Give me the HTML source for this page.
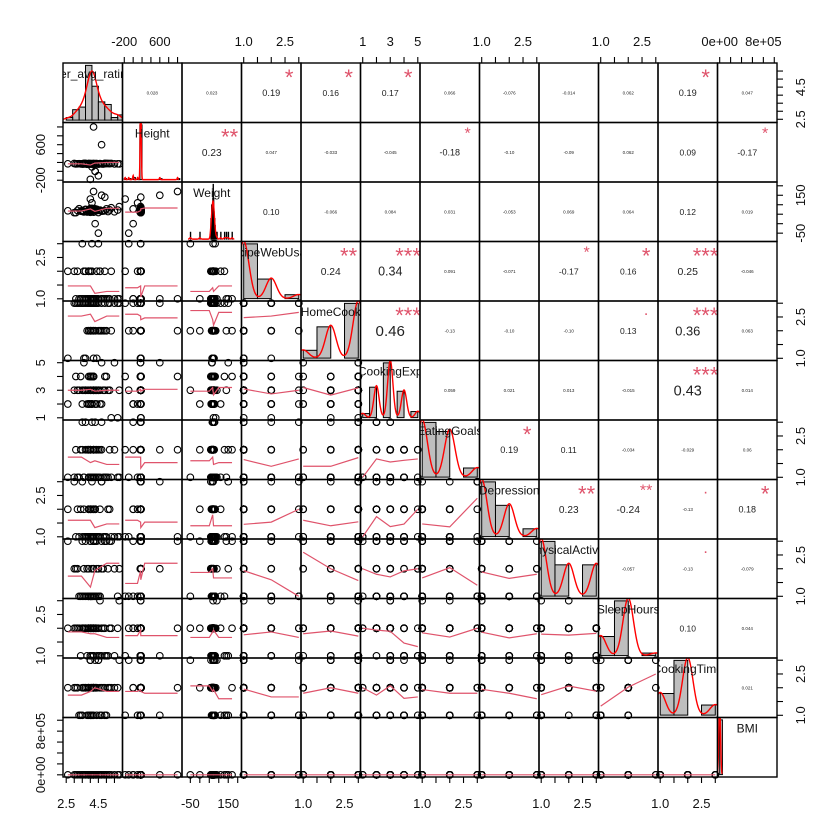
<!DOCTYPE html>
<html><head><meta charset="utf-8"><style>
html,body{margin:0;padding:0;background:#fff}
svg{display:block;font-family:"Liberation Sans",sans-serif}
</style></head><body>
<svg id="chart" width="840" height="840" viewBox="0 0 840 840" xmlns="http://www.w3.org/2000/svg"></svg>
<script>
const varNames = ["Per_avg_rating","Height","Weight","RecipeWebUsage","HomeCook","CookingExp","EatingGoals","Depression","PhysicalActivity","SleepHours","CookingTime","BMI"];
const rating = [4.2,3.5,4.6,3.1,4.0,4.9,3.8,4.4,4.1,5.3,3.4,4.2,4.5,3.9,5.0,3.2,4.0,4.3,4.7,3.7,4.1,4.2,5.8,3.6,4.3,4.0,4.8,3.9,2.6,4.5,4.1,3.5,4.2,5.1,3.9,4.4,4.0,5.5,4.1,3.7,4.6,4.2,3.3,4.7,3.9,4.0,4.3,5.2,3.8,4.1,4.2,5.7,3.6,4.4,4.0,3.0,4.3,4.9,3.9,4.1];
const height = [170,165,175,168,172,180,160,171,166,178,169,174,-100,163,177,170,167,173,600,176,164,171,168,179,0,172,166,175,170,162,174,169,1000,177,165,171,173,168,100,176,170,163,172,167,178,-180,171,174,166,169,175,170,164,173,168,177,0,172,165,171];
const weight = [70,65,72,58,80,68,62,75,69,84,66,71,-50,63,78,70,60,74,150,76,64,69,90,62,0,71,67,73,68,59,77,70,170,64,72,69,75,63,110,74,70,61,79,66,71,130,69,73,62,81,67,72,65,76,70,58,78,140,66,73];
const webUsage = "112112111211311211121112111121131121112121112211131112121121";
const homeCook = "332323313233232332332133232313332323233123322333232313233232";
const cookExp  = "332434323143324323532433243323424323352334322433243153432342";
const eatGoals = "121211213122121121231211221212132112121221131212212112213121";
const depress  = "112121113121121212311211221121131211212112132112121121132121";
const physAct  = "131213121312113231211321312132113213121312132113213121321312";
const sleepHrs = "221222122212221222122132212221222122212231222122212221222122";
const cookTime = "221232122212321222122132212223212212321222122132212221322122";
const bmi = [24,22,27,20,30,25,21,28,23,33,22,26,25,21,31,24,20,27,26,29,22,25,36,21,24,26,23,28,24,19,30,25,22,21,26,24,28,22,35,27,24,20,31,22,25,29,24,27,21,32,23,26,22,29,25,19,30,38,23,27];
const ranges = [[2.3,6.0],[-240,1100],[-94,220],[0.92,3.08],[0.92,3.08],[0.84,5.16],[0.92,3.08],[0.92,3.08],[0.92,3.08],[0.92,3.08],[0.92,3.08],[-40000,1050000]];
const tickVals = [[2.5,3,3.5,4,4.5,5,5.5],[-200,0,200,400,600,800,1000],[-50,0,50,100,150,200],[1,1.5,2,2.5,3],[1,1.5,2,2.5,3],[1,2,3,4,5],[1,1.5,2,2.5,3],[1,1.5,2,2.5,3],[1,1.5,2,2.5,3],[1,1.5,2,2.5,3],[1,1.5,2,2.5,3],[0,200000,400000,600000,800000,1000000]];
const tickLabelVals = [[2.5,4.5],[-200,600],[-50,150],[1,2.5],[1,2.5],[1,3,5],[1,2.5],[1,2.5],[1,2.5],[1,2.5],[1,2.5],[0,800000]];
const tickLabels = [["2.5","4.5"],["-200","600"],["-50","150"],["1.0","2.5"],["1.0","2.5"],["1","3","5"],["1.0","2.5"],["1.0","2.5"],["1.0","2.5"],["1.0","2.5"],["1.0","2.5"],["0e+00","8e+05"]];
const histStart = [2.5,-250,-60,null,null,null,null,null,null,null,null,0];
const histWidth = [0.4,50,2,0.5,0.5,0.5,0.5,0.5,0.5,0.5,0.5,50000];
const bandwidth = [0.22,10,4,0.19,0.19,0.19,0.19,0.19,0.19,0.19,0.19,15000];
const corrText = [
 [null,"0.028","0.023","0.19","0.16","0.17","0.066","-0.076","-0.014","0.062","0.19","0.047"],
 [null,null,"0.23","0.047","-0.033","-0.045","-0.18","-0.10","-0.09","0.062","0.09","-0.17"],
 [null,null,null,"0.10","-0.066","0.084","0.031","-0.053","0.069","0.064","0.12","0.019"],
 [null,null,null,null,"0.24","0.34","0.091","-0.071","-0.17","0.16","0.25","-0.046"],
 [null,null,null,null,null,"0.46","-0.13","-0.10","-0.10","0.13","0.36","0.063"],
 [null,null,null,null,null,null,"0.059","0.021","0.013","-0.015","0.43","0.014"],
 [null,null,null,null,null,null,null,"0.19","0.11","-0.034","-0.029","0.06"],
 [null,null,null,null,null,null,null,null,"0.23","-0.24","-0.13","0.18"],
 [null,null,null,null,null,null,null,null,null,"-0.057","-0.13","-0.079"],
 [null,null,null,null,null,null,null,null,null,null,"0.10","0.044"],
 [null,null,null,null,null,null,null,null,null,null,null,"0.021"],
 []];
const corrStars = [
 ["","","","*","*","*","","","","","*",""],
 ["","","**","","","","*","","","","","*"],
 ["","","","","","","","","","","",""],
 ["","","","","**","***","","","*","*","***",""],
 ["","","","","","***","","","","·","***",""],
 ["","","","","","","","","","","***",""],
 ["","","","","","","","*","","","",""],
 ["","","","","","","","","**","**","·","*"],
 ["","","","","","","","","","","·",""],
 [],[],[]];

const parse = s => s.split("").map(Number);
const data = [rating,height,weight,parse(webUsage),parse(homeCook),parse(cookExp),parse(eatGoals),parse(depress),parse(physAct),parse(sleepHrs),parse(cookTime),bmi];
const discrete = [false,false,false,true,true,true,true,true,true,true,true,false];

const NS="http://www.w3.org/2000/svg";
const svg=document.getElementById('chart');
const L=63,T=63,S=714/12;
function mk(tag,attrs,parent){const e=document.createElementNS(NS,tag);for(const k in attrs)e.setAttribute(k,attrs[k]);(parent||svg).appendChild(e);return e;}
const sx=(v,k,j)=>L+j*S+(v-ranges[k][0])/(ranges[k][1]-ranges[k][0])*S;
const sy=(v,k,i)=>T+(i+1)*S-(v-ranges[k][0])/(ranges[k][1]-ranges[k][0])*S;
const defs=mk('defs',{});
const N=data[0].length;

function smooth(xs,ys,disc){
  const pts=[];
  if(disc){
    const lv=[...new Set(xs)].sort((a,b)=>a-b);
    lv.forEach(l=>{let s=0,c=0;xs.forEach((x,q)=>{if(x===l){s+=ys[q];c++;}});pts.push([l,s/c]);});
  } else {
    const sorted=xs.map((x,q)=>[x,ys[q]]).sort((a,b)=>a[0]-b[0]);
    const nb=4,per=Math.ceil(sorted.length/nb);
    pts.push([sorted[0][0],sorted.slice(0,per).reduce((a,p)=>a+p[1],0)/per]);
    for(let b=0;b<sorted.length;b+=per){const ch=sorted.slice(b,b+per);pts.push([ch.reduce((a,p)=>a+p[0],0)/ch.length,ch.reduce((a,p)=>a+p[1],0)/ch.length]);}
    const lastCh=sorted.slice(-per);
    pts.push([sorted[sorted.length-1][0],lastCh.reduce((a,p)=>a+p[1],0)/lastCh.length]);
  }
  return pts;
}

for(let i=0;i<12;i++){
  for(let j=0;j<12;j++){
    const x0=L+j*S,y0=T+i*S;
    const g=mk('g',{});
    
    
    if(i>j){
      const xs=data[j],ys=data[i];
      for(let q=0;q<N;q++){
        const c=mk('circle',{cx:sx(xs[q],j,j).toFixed(2),cy:sy(ys[q],i,i).toFixed(2),r:3.3,fill:'none',stroke:'#000','stroke-width':1.1},g);
        
        
      }
      const pts=smooth(xs,ys,discrete[j]);
      const p=mk('polyline',{points:pts.map(p=>sx(p[0],j,j).toFixed(2)+','+sy(p[1],i,i).toFixed(2)).join(' '),fill:'none',stroke:'#DF536B','stroke-width':1.2},g);
      
      
    } else if(i<j){
      const s=corrText[i][j];const r=Math.abs(parseFloat(s));
      const big=r>=0.15||(s.length<=4&&r>=0.09);
      const fs=big?Math.max(8.5,5+22*r):4.5;
      const t=mk('text',{x:x0+S/2,y:y0+S/2+fs*0.36,'font-size':fs.toFixed(1),'text-anchor':'middle',fill:'#222'},g);
      t.textContent=s;
      
      
      const st=corrStars[i][j];
      if(st){
        const cid='cc'+i+'_'+j;
        const cp=mk('clipPath',{id:cid},defs);mk('rect',{x:x0,y:y0,width:S,height:S},cp);
        const ss=st==='·'?16:(s.length<=4?22:16);
        const te=mk('text',{x:x0+S*0.8,y:y0+(st==='·'?14:ss*0.95+1),'font-size':ss,'text-anchor':'middle',fill:'#DF536B','clip-path':'url(#'+cid+')'},g);
        te.textContent=st==='·'?'.':st;
        
        
      }
    } else {
      const k=i,xs=data[k];
      const cid='cd'+k;
      const cp=mk('clipPath',{id:cid},defs);mk('rect',{x:x0,y:y0,width:S,height:S},cp);
      const gg=mk('g',{'clip-path':'url(#'+cid+')'},g);
      const w=histWidth[k];const bins={};
      xs.forEach(v=>{let b;
        if(discrete[k]){b=(v===1)?1:v-w;}
        else b=histStart[k]+Math.floor((v-histStart[k])/w)*w;
        bins[b]=(bins[b]||0)+1;});
      const dens=Object.keys(bins).map(b=>[+b,bins[b]/(N*w)]);
      const ymax=Math.max(...dens.map(d=>d[1]));
      const hy=d=>y0+S-0.04*S-d/ymax*S*0.92;
      dens.forEach(d=>{
        const bx=sx(d[0],k,k),bw=sx(d[0]+w,k,k)-bx;
        const r=mk('rect',{x:bx.toFixed(2),y:hy(d[1]).toFixed(2),width:bw.toFixed(2),height:(hy(0)-hy(d[1])).toFixed(2),fill:'#BEBEBE',stroke:'#000','stroke-width':1},gg);
        
        
      });
      const bwd=bandwidth[k];const pts=[];
      const lo=Math.min(...xs)-3*bwd,hi=Math.max(...xs)+3*bwd;
      for(let q=0;q<=200;q++){const x=lo+(hi-lo)*q/200;let d=0;xs.forEach(v=>{const z=(x-v)/bwd;d+=Math.exp(-0.5*z*z);});d/=N*bwd*Math.sqrt(2*Math.PI);pts.push(sx(x,k,k).toFixed(2)+','+hy(d).toFixed(2));}
      const dl=mk('polyline',{points:pts.join(' '),fill:'none',stroke:'red','stroke-width':1.4},gg);
      
      
      const lt=mk('text',{x:x0+S/2,y:y0+15,'font-size':12,'text-anchor':'middle',fill:'#111'},gg);
      lt.textContent=varNames[k];
      
      
    }
    const b=mk('rect',{x:x0,y:y0,width:S,height:S,fill:'none',stroke:'#000','stroke-width':1.4},g);
    
    
  }
}
for(let k=0;k<12;k++){
  const ga=mk('g',{});
  
  
  const top=k%2===1;const yb=top?T:T+12*S;const dir=top?-1:1;
  tickVals[k].forEach(v=>{const x=sx(v,k,k);mk('line',{x1:x,x2:x,y1:yb,y2:yb+dir*6,stroke:'#000','stroke-width':1.1},ga);});
  tickLabelVals[k].forEach((v,q)=>{const t=mk('text',{x:sx(v,k,k),y:top?46:808,'font-size':13,'text-anchor':'middle',fill:'#111'},ga);t.textContent=tickLabels[k][q];
    
    });
  const gy=mk('g',{});
  
  
  const left=k%2===1;const xb=left?L:L+12*S;const dx=left?-1:1;
  tickVals[k].forEach(v=>{const y=sy(v,k,k);mk('line',{x1:xb,x2:xb+dx*6,y1:y,y2:y,stroke:'#000','stroke-width':1.1},gy);});
  tickLabelVals[k].forEach((v,q)=>{const y=sy(v,k,k);const xx=left?45:805;const t=mk('text',{x:xx,y:y,'font-size':13,'text-anchor':'middle',fill:'#111',transform:'rotate(-90 '+xx+' '+y+')'},gy);t.textContent=tickLabels[k][q];
    
    });
}
</script>
</body></html>
